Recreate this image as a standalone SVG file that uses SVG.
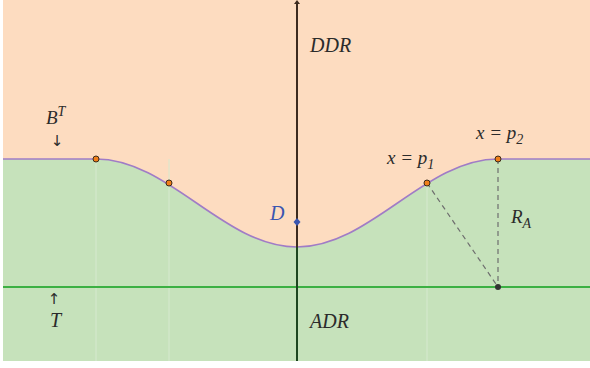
<svg xmlns="http://www.w3.org/2000/svg" width="590" height="368" viewBox="0 0 590 368">
<style>
.lbl{font-family:"Liberation Serif","DejaVu Serif",serif;font-style:italic;fill:#2b2b2b}
.pt{fill:#f07f1a;stroke:#3a2a1a;stroke-width:1}
.faint{stroke:#d6e9cf;stroke-width:1}
.dash{stroke:#6e6e6e;stroke-width:1.2;stroke-dasharray:5,4;fill:none}
</style>
<rect x="0" y="0" width="590" height="368" fill="#ffffff"/>
<rect x="3" y="0" width="587" height="361" fill="#fddcc0"/>
<path d="M3,159 L96,159 C169.2,159 223.8,247 297,247 C370.2,247 424.8,159 498,159 L590,159 L590,361 L3,361 Z" fill="#c6e2bb"/>
<g id="guides">
<line class="faint" x1="96" y1="159" x2="96" y2="361"/>
<line class="faint" x1="169" y1="159" x2="169" y2="361"/>
<line class="faint" x1="427" y1="183" x2="427" y2="361"/>
</g>
<g id="connectors">
<path d="M3,159 L96,159 C169.2,159 223.8,247 297,247 C370.2,247 424.8,159 498,159 L590,159" fill="none" stroke="#a07cc6" stroke-width="1.6"/>
<line x1="3" y1="287" x2="590" y2="287" stroke="#3cb043" stroke-width="2"/>
<line class="dash" x1="427" y1="183" x2="498" y2="287"/>
<line class="dash" x1="498" y1="159" x2="498" y2="287"/>
<line x1="297" y1="3" x2="297" y2="247" stroke="#3d2b1f" stroke-width="2"/>
<line x1="297" y1="247" x2="297" y2="361" stroke="#1d4620" stroke-width="2"/>
<path d="M294,4 L297,0 L300,4 Z" fill="#3d2b1f"/>
</g>
<g id="points">
<circle class="pt" cx="96" cy="159" r="3"/>
<circle class="pt" cx="169" cy="183" r="3"/>
<circle class="pt" cx="427" cy="183" r="3"/>
<circle class="pt" cx="498" cy="159" r="3"/>
<circle cx="498" cy="287" r="3" fill="#333333"/>
<path d="M297,218 L300.5,222 L297,226 L293.5,222 Z" fill="#3a55b0"/>
</g>
<g id="labels">
<text class="lbl" x="310" y="52" font-size="20">DDR</text>
<text class="lbl" x="310" y="328" font-size="20">ADR</text>
<text class="lbl" x="46" y="124" font-size="19">B<tspan font-size="14" dy="-8">T</tspan></text>
<text x="57" y="146" font-size="15" font-family="DejaVu Sans, sans-serif" fill="#2b2b2b" text-anchor="middle">↓</text>
<text x="54" y="304" font-size="15" font-family="DejaVu Sans, sans-serif" fill="#2b2b2b" text-anchor="middle">↑</text>
<text class="lbl" x="50" y="327" font-size="20">T</text>
<text class="lbl" x="270" y="220" font-size="20" style="fill:#3a55b0">D</text>
<text class="lbl" x="387" y="164" font-size="19">x = p<tspan font-size="14" dy="5">1</tspan></text>
<text class="lbl" x="476" y="139" font-size="19">x = p<tspan font-size="14" dy="5">2</tspan></text>
<text class="lbl" x="511" y="223" font-size="19">R<tspan font-size="14" dy="5">A</tspan></text>
</g>
</svg>
